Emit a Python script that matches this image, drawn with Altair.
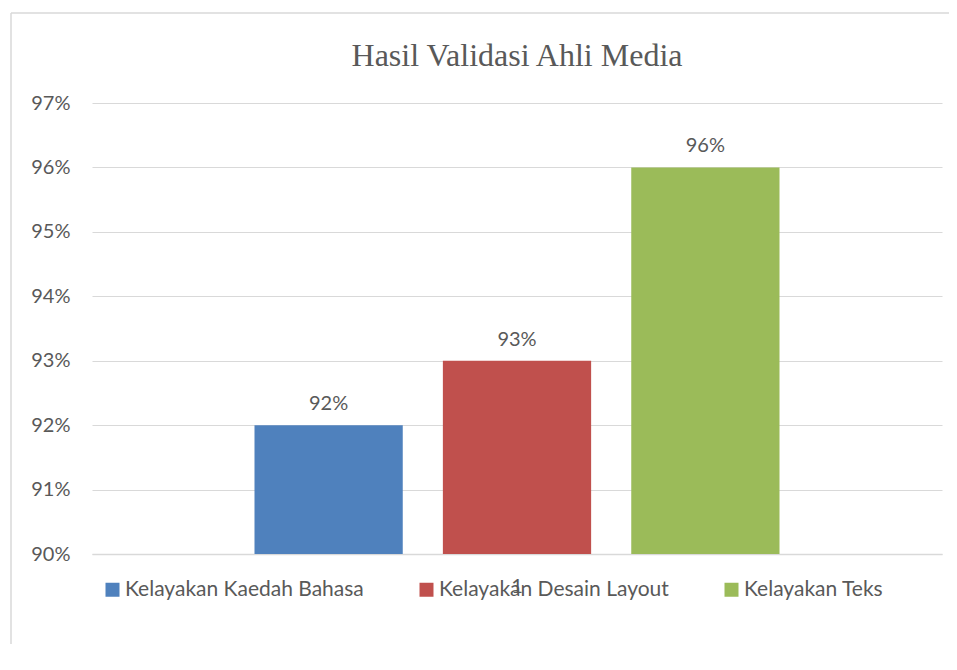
import altair as alt
import pandas as pd

categories = ["1", "1", "1"]
series = ["Kelayakan Kaedah Bahasa", "Kelayakan Desain Layout", "Kelayakan Teks"]
values = [0.92, 0.93, 0.96]
colors = ["#4F81BD", "#C0504D", "#9BBB59"]
y_ticks = [0.90, 0.91, 0.92, 0.93, 0.94, 0.95, 0.96, 0.97]

df = pd.DataFrame({"cat": categories, "series": series, "value": values})

FONT = "Lato"
GRAY = "#595959"

x_enc = alt.X("cat:N", title=None,
              scale=alt.Scale(paddingOuter=0.3095, paddingInner=0),
              axis=alt.Axis(labelAngle=0, ticks=False, domain=True, domainColor="#d9d9d9",
                            domainWidth=1.5, labelPadding=22, labelFontSize=20,
                            labelColor=GRAY, labelFont=FONT))
xo_enc = alt.XOffset("series:N", sort=series, scale=alt.Scale(paddingInner=0.213, paddingOuter=0))
y_scale = alt.Scale(domain=[0.90, 0.97], zero=False, nice=False)

bars = alt.Chart(df).mark_bar().encode(
    x=x_enc,
    xOffset=xo_enc,
    y=alt.Y("value:Q", title=None, scale=y_scale,
            axis=alt.Axis(values=y_ticks, format=".0%", ticks=False, domain=False,
                          gridColor="#d9d9d9", gridWidth=1, labelPadding=22,
                          labelFontSize=20, labelColor=GRAY, labelFont=FONT)),
    y2=alt.datum(0.90),
    color=alt.Color("series:N", sort=series,
                    scale=alt.Scale(domain=series, range=colors),
                    legend=alt.Legend(title=None, orient="none", legendX=10, legendY=476,
                                      direction="horizontal", symbolType="square",
                                      symbolSize=196, symbolStrokeWidth=0,
                                      labelFontSize=21, labelColor=GRAY, labelFont=FONT,
                                      labelOffset=2, columnPadding=52, labelLimit=400)),
)

labels = alt.Chart(df).mark_text(dy=-21, fontSize=20, color=GRAY, font=FONT).encode(
    x=alt.X("cat:N"),
    xOffset=alt.XOffset("series:N", sort=series),
    y=alt.Y("value:Q", scale=y_scale),
    text=alt.Text("value:Q", format=".0%"),
)

frame_df = pd.DataFrame({"a": [0]})
border_top = alt.Chart(frame_df).mark_rule(
    stroke="#d9d9d9", strokeWidth=1.5, clip=False
).encode(x=alt.value(-81), x2=alt.value(857), y=alt.value(-90))
border_left = alt.Chart(frame_df).mark_rule(
    stroke="#d9d9d9", strokeWidth=1.5, clip=False
).encode(x=alt.value(-81), y=alt.value(-90), y2=alt.value(541))

chart = alt.layer(border_top, border_left, bars, labels).properties(
    width=850, height=451,
    title=alt.TitleParams("Hasil Validasi Ahli Media", font="Liberation Serif",
                          fontSize=32, fontWeight="normal", color=GRAY,
                          offset=0, baseline="bottom", dy=93),
    autosize=alt.AutoSizeParams(type="none"),
    padding={"left": 84, "top": 95, "right": 7, "bottom": 90},
).configure_view(stroke=None)

chart.save("out.html", embed_options={"renderer": "svg", "actions": False})
